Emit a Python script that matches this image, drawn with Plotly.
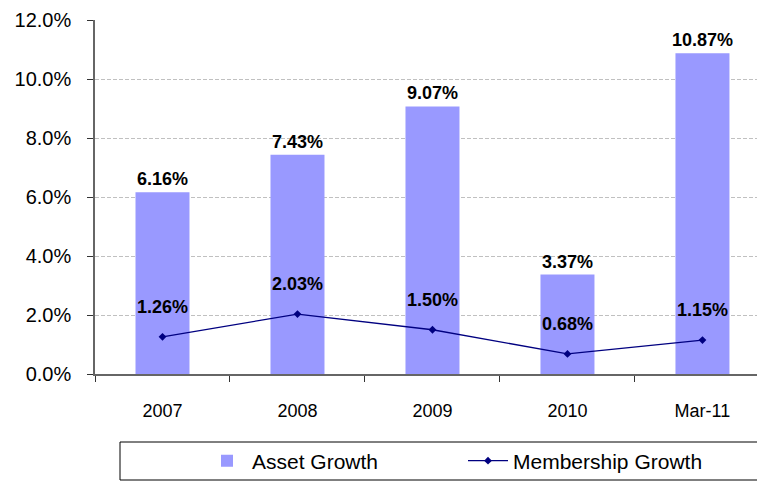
import plotly.graph_objects as go

categories = ["2007", "2008", "2009", "2010", "Mar-11"]
asset_growth = [6.16, 7.43, 9.07, 3.37, 10.87]
membership_growth = [1.26, 2.03, 1.50, 0.68, 1.15]
y_ticks = [0, 2, 4, 6, 8, 10, 12]
y_tick_labels = ["0.0%", "2.0%", "4.0%", "6.0%", "8.0%", "10.0%", "12.0%"]

W, H = 757, 482
L, R, T, B = 95, 0, 20, 108
plot_w = W - L - R
plot_h = H - T - B
FONT = "Liberation Sans, Arial, sans-serif"

fig = go.Figure()
fig.add_trace(go.Bar(
    x=categories, y=asset_growth, name="Asset Growth",
    marker=dict(color="#9999FF", line=dict(width=0)), width=0.4,
    text=[f"{v:.2f}%" for v in asset_growth], textposition="outside",
    texttemplate="<b>%{text}</b>", constraintext="none",
    textfont=dict(family=FONT, size=18, color="black"),
    cliponaxis=False,
))
fig.add_trace(go.Scatter(
    x=categories, y=membership_growth, name="Membership Growth",
    mode="lines+markers",
    line=dict(color="#000080", width=1.3),
    marker=dict(symbol="diamond", size=6, color="#000080"),
))
for i, v in enumerate(membership_growth):
    fig.add_annotation(x=i, y=v, xref="x", yref="y", text=f"<b>{v:.2f}%</b>",
                       showarrow=False, yshift=30,
                       font=dict(family=FONT, size=18, color="black"))

# legend border box
fig.add_shape(type="rect", xref="paper", yref="paper",
              x0=(120 - L) / plot_w, x1=(775 - L) / plot_w,
              y0=(T + plot_h - 480) / plot_h, y1=(T + plot_h - 442) / plot_h,
              line=dict(color="black", width=1), fillcolor="rgba(0,0,0,0)")

fig.update_layout(
    width=W, height=H,
    margin=dict(l=L, r=R, t=T, b=B, pad=0, autoexpand=False),
    plot_bgcolor="white", paper_bgcolor="white",
    font=dict(family=FONT, color="black"),
    showlegend=True,
    uniformtext=dict(mode=False),
    legend=dict(orientation="h", x=(202 - L) / plot_w, y=(T + plot_h - 461) / plot_h,
                xanchor="left", yanchor="middle",
                font=dict(size=21), bgcolor="rgba(0,0,0,0)",
                itemwidth=40, entrywidth=206, traceorder="normal"),
    xaxis=dict(
        type="category", range=[-0.5, 4.404],
        showline=True, linecolor="#666", linewidth=1.5,
        ticks="outside", tickson="boundaries", ticklen=6, tickcolor="#333",
        tickfont=dict(size=18), ticklabelstandoff=20, showgrid=False,
        automargin=False,
    ),
    yaxis=dict(
        range=[0, 12], tickvals=y_ticks, ticktext=y_tick_labels,
        showline=True, linecolor="#666", linewidth=1.5,
        ticks="outside", ticklen=6, tickcolor="#333",
        tickfont=dict(size=20), ticklabelstandoff=12,
        showgrid=True, gridcolor="#C0C0C0", griddash="4px,2px", gridwidth=1,
        zeroline=False, automargin=False,
    ),
)

fig.write_html("out.html", config={"displayModeBar": False},
               post_script="document.body.style.margin='0';")
